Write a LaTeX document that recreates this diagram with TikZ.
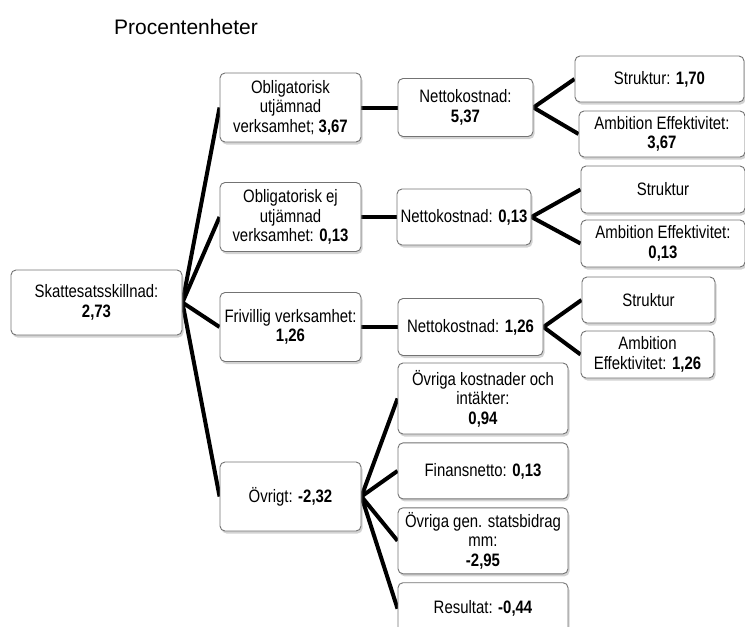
\documentclass[tikz,border=0pt]{standalone}
\usepackage{fontspec}
\setmainfont[FakeStretch=0.83]{Liberation Sans}
\newfontfamily\titlefont{Liberation Sans}
\usepackage{tikz}
\usetikzlibrary{positioning, shadows, backgrounds}
\definecolor{boxgray}{RGB}{115,115,115}

\begin{document}
\begin{tikzpicture}[x=1pt, y=-1pt,
    box/.style={rectangle, rounded corners=5pt, draw=boxgray, fill=white, line width=0.9pt,
                drop shadow={shadow xshift=1.5pt, shadow yshift=-2.5pt, opacity=0.35},
                align=center, inner sep=1pt, font=\fontsize{18}{19.5}\selectfont},
    lvlbox/.style={box, minimum width=141pt, minimum height=69pt},
    netbox/.style={box, minimum height=57pt},
    subbox/.style={box, minimum height=46pt},
    restbox/.style={box, minimum width=170pt},
    link/.style={line width=4pt, line join=miter}
]
\useasboundingbox (0,0) rectangle (745,627);
\node[font=\titlefont\fontsize{21}{25}\selectfont] (title) at (186,27) {Procentenheter};

\node[box, minimum width=171pt, minimum height=65pt] (root) at (96.5,302.5) {Skattesatsskillnad:\\\textbf{2,73}};

\node[lvlbox] (utj) at (290.5,107.5) {Obligatorisk\\utjämnad\\verksamhet; \textbf{3,67}};
\node[lvlbox] (ejutj) at (290.5,217) {Obligatorisk ej\\utjämnad\\verksamhet: \textbf{0,13}};
\node[lvlbox] (friv) at (290.5,327) {Frivillig verksamhet:\\\textbf{1,26}};
\node[lvlbox] (ovr) at (290.5,496.5) {Övrigt: \textbf{-2,32}};

\node[netbox, minimum width=135pt, minimum height=58pt] (net1) at (465.5,107.5) {Nettokostnad:\\\textbf{5,37}};
\node[netbox, minimum width=134pt, minimum height=56pt] (net2) at (464,217) {Nettokostnad: \textbf{0,13}};
\node[netbox, minimum width=145pt] (net3) at (470.5,327) {Nettokostnad: \textbf{1,26}};

\node[subbox, minimum width=169pt] (str1) at (659.5,79) {Struktur: \textbf{1,70}};
\node[subbox, minimum width=166pt] (amb1) at (662,134) {Ambition Effektivitet:\\\textbf{3,67}};
\node[subbox, minimum width=164pt, minimum height=47pt] (str2) at (663,189.5) {Struktur};
\node[subbox, minimum width=164pt, minimum height=47pt] (amb2) at (663,243.5) {Ambition Effektivitet:\\\textbf{0,13}};
\node[subbox, minimum width=133pt] (str3) at (648.5,300) {Struktur};
\node[subbox, minimum width=133pt, minimum height=47pt] (amb3) at (647.5,354.5) {Ambition\\Effektivitet: \textbf{1,26}};

\node[restbox, minimum height=71pt] (kost) at (483,398.5) {Övriga kostnader och\\intäkter:\\\textbf{0,94}};
\node[restbox, minimum height=56pt, below=8pt of kost] (fin) {Finansnetto: \textbf{0,13}};
\node[restbox, minimum height=66pt, below=8pt of fin] (stat) {Övriga gen. statsbidrag\\mm:\\\textbf{-2,95}};
\node[restbox, minimum height=52pt, below=8pt of stat] (res) {Resultat: \textbf{-0,44}};

\begin{scope}[on background layer]
\draw[link] (utj.west) -- (root.east) -- (ovr.west);
\draw[link] (ejutj.west) -- (root.east) -- (friv.west);
\draw[link] (utj) -- (net1);
\draw[link] (ejutj) -- (net2);
\draw[link] (friv) -- (net3);
\draw[link] (str1.west) -- (net1.east) -- (amb1.west);
\draw[link] (str2.west) -- (net2.east) -- (amb2.west);
\draw[link] (str3.west) -- (net3.east) -- (amb3.west);
\draw[link] (kost.west) -- (ovr.east) -- (res.west);
\draw[link] (fin.west) -- (ovr.east) -- (stat.west);
\end{scope}
\end{tikzpicture}
\end{document}
